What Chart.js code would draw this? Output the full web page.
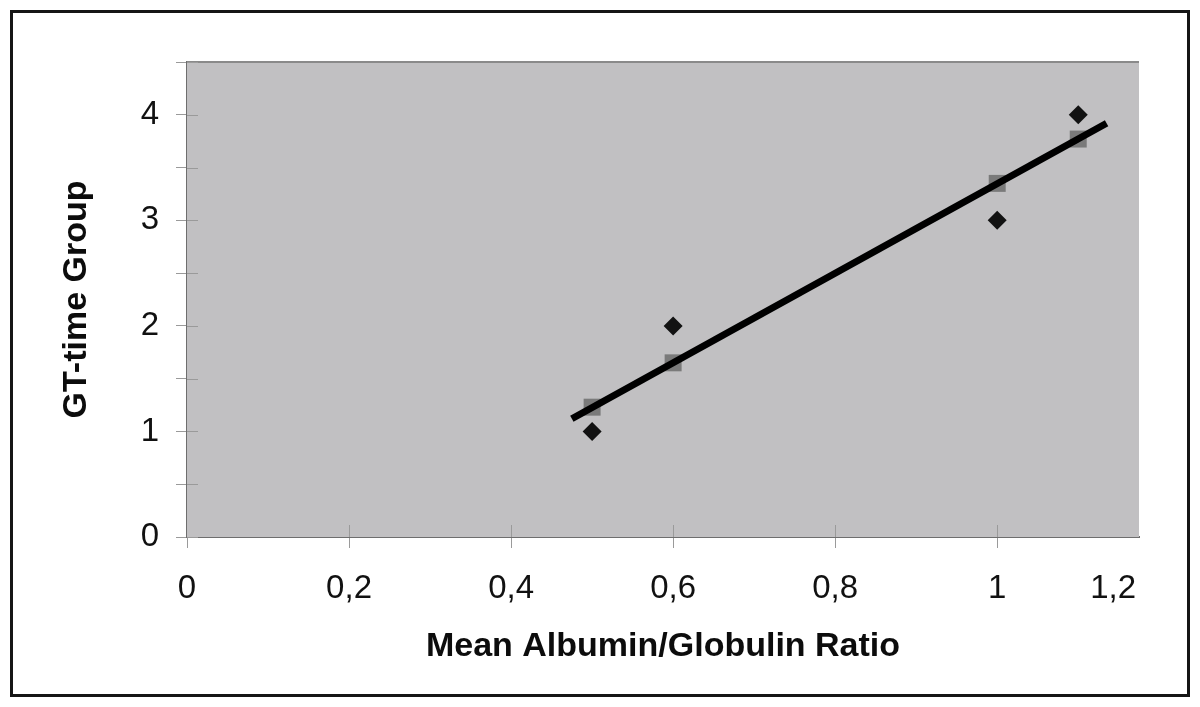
<!DOCTYPE html>
<html>
<head>
<meta charset="utf-8">
<script src="https://cdn.jsdelivr.net/npm/chart.js@4.4.1/dist/chart.umd.min.js"></script>
<style>
  html, body { margin: 0; padding: 0; background: #ffffff; }
  #wrap { position: relative; width: 1200px; height: 707px; }
  #c { position: absolute; left: 0; top: 0; }
  #frame { position: absolute; left: 10px; top: 10px; width: 1180px; height: 687px;
           box-sizing: border-box; border: 3px solid #151515; pointer-events: none; }
</style>
</head>
<body>
<div id="wrap">
  <canvas id="c" width="1200" height="707"></canvas>
  <div id="frame"></div>
</div>
<script>
// ---- data ----
const observedX = [0.5, 0.6, 1.0, 1.1];
const observedY = [1, 2, 3, 4];
const predictedX = [0.5, 0.6, 1.0, 1.1];
const predictedY = [1.23, 1.65, 3.35, 3.77];
const trendX = [0.475, 1.135];
const trendY = [1.12, 3.92];
const xTickValues = [0, 0.2, 0.4, 0.6, 0.8, 1.0, 1.143];
const xTickLabels = ['0', '0,2', '0,4', '0,6', '0,8', '1', '1,2'];
const yTickValues = [0, 0.5, 1, 1.5, 2, 2.5, 3, 3.5, 4, 4.5];
const yTickLabels = ['0', '', '1', '', '2', '', '3', '', '4', ''];
const xTitle = 'Mean Albumin/Globulin Ratio';
const yTitle = 'GT-time Group';

const toPoints = (xs, ys) => xs.map((x, i) => ({ x: x, y: ys[i] }));

const FONT = "'Liberation Sans', Arial, sans-serif";

const plotDecor = {
  id: 'plotDecor',
  beforeDatasetsDraw(chart) {
    const { ctx, chartArea: a, scales } = chart;
    ctx.save();
    ctx.fillStyle = '#c1c0c2';
    ctx.fillRect(a.left, a.top, a.right - a.left, a.bottom - a.top);
    // top border
    ctx.strokeStyle = '#8a8a8a';
    ctx.lineWidth = 2;
    ctx.beginPath();
    ctx.moveTo(a.left, a.top);
    ctx.lineTo(a.right, a.top);
    ctx.stroke();
    // inner halves of crossing tick marks
    ctx.strokeStyle = '#9a9a9a';
    ctx.lineWidth = 1;
    scales.y.ticks.forEach(t => {
      const p = Math.round(scales.y.getPixelForValue(t.value)) + 0.5;
      ctx.beginPath();
      ctx.moveTo(a.left, p);
      ctx.lineTo(a.left + 11, p);
      ctx.stroke();
    });
    scales.x.ticks.forEach((t, i) => {
      if (i === 0 || i === scales.x.ticks.length - 1) return;
      const p = Math.round(scales.x.getPixelForValue(t.value)) + 0.5;
      ctx.beginPath();
      ctx.moveTo(p, a.bottom);
      ctx.lineTo(p, a.bottom - 12);
      ctx.stroke();
    });
    ctx.restore();
  }
};

new Chart(document.getElementById('c'), {
  type: 'scatter',
  data: {
    datasets: [
      {
        label: 'Observed',
        data: toPoints(observedX, observedY),
        pointStyle: 'rectRot',
        pointRadius: 9.5,
        backgroundColor: '#121212',
        borderColor: '#121212',
        borderWidth: 0,
        order: 1
      },
      {
        label: 'Trend',
        data: toPoints(trendX, trendY),
        showLine: true,
        borderColor: '#000000',
        borderWidth: 7,
        pointRadius: 0,
        fill: false,
        order: 2
      },
      {
        label: 'Predicted',
        data: toPoints(predictedX, predictedY),
        pointStyle: 'rect',
        pointRadius: 12,
        backgroundColor: '#7a7a7a',
        borderColor: '#7a7a7a',
        borderWidth: 0,
        order: 3
      }
    ]
  },
  options: {
    responsive: false,
    animation: false,
    events: [],
    layout: { padding: { left: 52, top: 62, right: 61, bottom: 36 } },
    plugins: { legend: { display: false }, tooltip: { enabled: false } },
    scales: {
      x: {
        type: 'linear',
        min: 0,
        max: 1.175,
        afterBuildTicks: (s) => { s.ticks = xTickValues.map(v => ({ value: v })); },
        afterFit: (s) => { s.height = 134; },
        ticks: {
          autoSkip: false,
          maxRotation: 0,
          padding: 21,
          color: '#111111',
          font: { family: FONT, size: 33 },
          callback: (v, i) => xTickLabels[i]
        },
        grid: {
          drawOnChartArea: false,
          drawTicks: true,
          tickLength: 11,
          color: (c) => (c.index === xTickValues.length - 1 ? 'rgba(0,0,0,0)' : '#9a9a9a'),
          lineWidth: 1
        },
        border: { display: true, color: '#6e6e6e', width: 2 },
        title: {
          display: true,
          text: xTitle,
          color: '#0c0c0c',
          font: { family: FONT, size: 34, weight: 'bold' },
          padding: { top: 19, bottom: 4 }
        }
      },
      y: {
        type: 'linear',
        min: 0,
        max: 4.5,
        afterBuildTicks: (s) => { s.ticks = yTickValues.map(v => ({ value: v })); },
        afterFit: (s) => { s.width = 135; },
        ticks: {
          autoSkip: false,
          padding: 17,
          color: '#111111',
          font: { family: FONT, size: 33 },
          callback: (v, i) => yTickLabels[i]
        },
        grid: {
          drawOnChartArea: false,
          drawTicks: true,
          tickLength: 11,
          color: '#9a9a9a',
          lineWidth: 1
        },
        border: { display: true, color: '#6e6e6e', width: 2 },
        title: {
          display: true,
          text: yTitle,
          color: '#0c0c0c',
          font: { family: FONT, size: 34, weight: 'bold' },
          padding: { top: 4, bottom: 4 }
        }
      }
    }
  },
  plugins: [plotDecor]
});
</script>
</body>
</html>
